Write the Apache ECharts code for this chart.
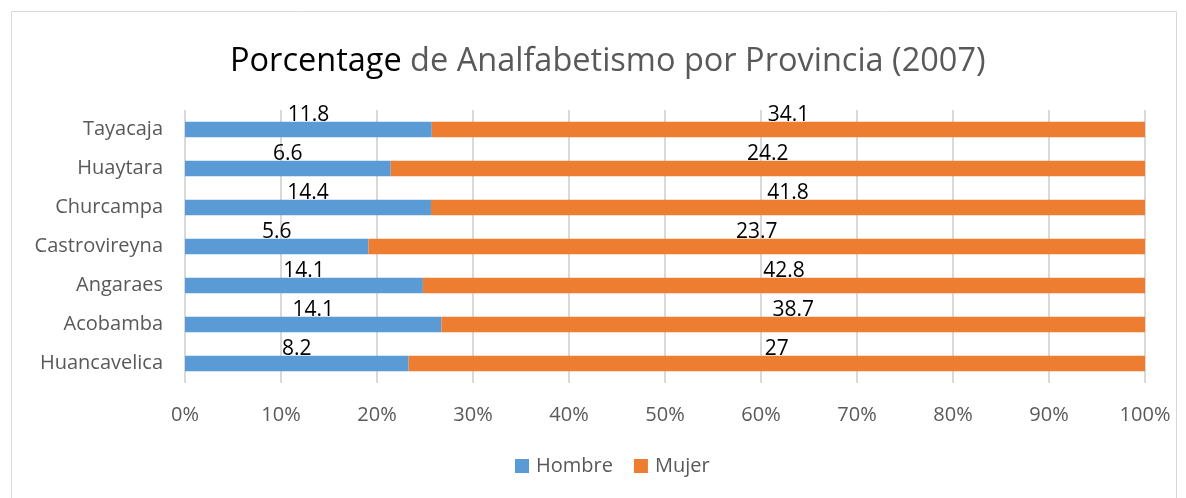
<!DOCTYPE html>
<html>
<head>
<meta charset="utf-8">
<script src="https://cdn.jsdelivr.net/npm/echarts@6/dist/echarts.min.js"></script>
<style>
  html, body { margin: 0; padding: 0; background: #fff; }
  #chart { width: 1186px; height: 498px; }
</style>
</head>
<body>
<div id="chart"></div>
<script>
const provincias = ['Huancavelica', 'Acobamba', 'Angaraes', 'Castrovireyna', 'Churcampa', 'Huaytara', 'Tayacaja'];
const hombre = [8.2, 14.1, 14.1, 5.6, 14.4, 6.6, 11.8];
const mujer = [27, 38.7, 42.8, 23.7, 41.8, 24.2, 34.1];

const font = 'Open Sans';
const pct = (arr, i) => arr[i] / (hombre[i] + mujer[i]) * 100;

let myChart = echarts.init(document.getElementById('chart'));

let option = {
    animation: false,
    textStyle: { fontFamily: font },
    graphic: [{
        type: 'rect',
        shape: { x: 11.5, y: 11.5, width: 1165, height: 500 },
        style: { fill: 'none', stroke: '#d9d9d9', lineWidth: 1 },
        silent: true
    }],
    title: {
        text: '{a|Porcentage}{b| de Analfabetismo por Provincia (2007)}',
        left: 225,
        top: 40,
        textStyle: {
            rich: {
                a: { fontFamily: font, fontSize: 32.5, fontWeight: 'normal', color: '#000' },
                b: { fontFamily: font, fontSize: 32.5, fontWeight: 'normal', color: '#595959' }
            }
        }
    },
    legend: {
        bottom: 17,
        left: 510,
        itemWidth: 14,
        itemHeight: 14,
        itemGap: 21,
        icon: 'rect',
        textStyle: { fontFamily: font, fontSize: 20, color: '#595959', padding: [0, 0, 0, 2] },
        data: ['Hombre', 'Mujer']
    },
    grid: {
        left: 185,
        right: 41,
        top: 110,
        bottom: 115,
        containLabel: false
    },
    xAxis: {
        type: 'value',
        min: 0,
        max: 100,
        interval: 10,
        axisLabel: {
            formatter: '{value}%',
            fontFamily: font,
            fontSize: 20,
            color: '#595959',
            margin: 22
        },
        axisLine: { show: false },
        axisTick: { show: false },
        splitLine: { lineStyle: { color: '#d9d9d9', width: 2 } }
    },
    yAxis: {
        type: 'category',
        data: provincias,
        axisLabel: {
            fontFamily: font,
            fontSize: 20,
            color: '#595959',
            margin: 22
        },
        axisLine: { show: false },
        axisTick: { show: false }
    },
    series: [
        {
            name: 'Hombre',
            type: 'bar',
            stack: 'total',
            barCategoryGap: '60%',
            itemStyle: { color: '#5b9bd5' },
            label: {
                show: true,
                position: 'inside',
                offset: [0, -14],
                fontFamily: font,
                fontSize: 21,
                color: '#000',
                formatter: p => hombre[p.dataIndex]
            },
            data: hombre.map((v, i) => pct(hombre, i))
        },
        {
            name: 'Mujer',
            type: 'bar',
            stack: 'total',
            itemStyle: { color: '#ed7d31' },
            label: {
                show: true,
                position: 'inside',
                offset: [0, -14],
                fontFamily: font,
                fontSize: 21,
                color: '#000',
                formatter: p => mujer[p.dataIndex]
            },
            data: mujer.map((v, i) => pct(mujer, i))
        }
    ]
};

option && myChart.setOption(option);
</script>
</body>
</html>
